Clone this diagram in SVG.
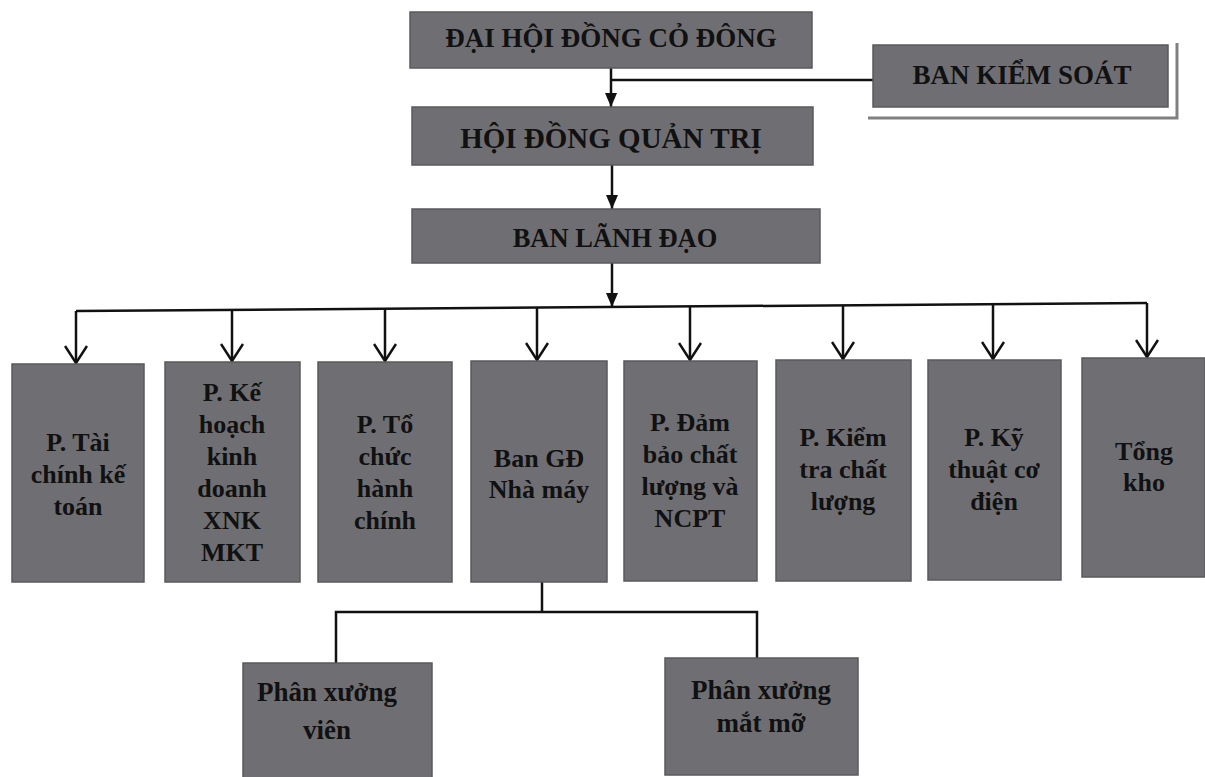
<svg xmlns="http://www.w3.org/2000/svg" width="1205" height="777" viewBox="0 0 1205 777">
<defs>
<style>
.box{fill:#6f6f73;stroke:#5a5a5e;stroke-width:1.5}
.t{font-family:"Liberation Serif","Times New Roman",serif;font-weight:bold;fill:#111;text-anchor:middle}
.t26{font-size:26px}
.t27{font-size:27px}
.ln{fill:none;stroke:#111;stroke-width:2.5}
</style>
<marker id="solid" viewBox="0 0 14 12" refX="14" refY="6" markerWidth="14" markerHeight="12" orient="auto" markerUnits="userSpaceOnUse">
<path d="M0,0 L14,6 L0,12 Z" fill="#111"/>
</marker>
<marker id="openV" viewBox="0 0 20 24" refX="18" refY="12" markerWidth="20" markerHeight="24" orient="auto" markerUnits="userSpaceOnUse">
<path d="M1,1 L18,12 L1,23" fill="none" stroke="#111" stroke-width="2.5"/>
</marker>
</defs>
<rect width="1205" height="777" fill="#ffffff"/>

<g id="connectors">
<path class="ln" d="M611,68 V107" marker-end="url(#solid)"/>
<path class="ln" d="M611,80 H873"/>
<path class="ln" d="M612,165 V209" marker-end="url(#solid)"/>
<path class="ln" d="M612,263 V307" marker-end="url(#solid)"/>
<path class="ln" d="M76,311 L1147,303"/>
<path class="ln" d="M76,311 V363" marker-end="url(#openV)"/>
<path class="ln" d="M232,310 V361" marker-end="url(#openV)"/>
<path class="ln" d="M385,309 V361" marker-end="url(#openV)"/>
<path class="ln" d="M537,308 V360" marker-end="url(#openV)"/>
<path class="ln" d="M690,306 V360" marker-end="url(#openV)"/>
<path class="ln" d="M843,305 V359" marker-end="url(#openV)"/>
<path class="ln" d="M993,304 V359" marker-end="url(#openV)"/>
<path class="ln" d="M1147,303 V357" marker-end="url(#openV)"/>
<path class="ln" d="M542,582 V612 M336,663 V612 H757 V658"/>
</g>

<g id="n-dhdcd">
<rect class="box" x="410" y="12" width="402" height="56"/>
<text class="t t27" x="611" y="47">ĐẠI HỘI ĐỒNG CỎ ĐÔNG</text>
</g>

<g id="n-bks">
<path d="M868,118 H1177 V43" fill="none" stroke="#808080" stroke-width="3"/>
<rect class="box" x="873" y="45" width="295" height="62"/>
<text class="t t27" x="1022" y="84">BAN KIỂM SOÁT</text>
</g>

<g id="n-hdqt">
<rect class="box" x="412" y="107" width="401" height="58"/>
<text class="t" style="font-size:29px" x="611" y="148">HỘI ĐỒNG QUẢN TRỊ</text>
</g>

<g id="n-bld">
<rect class="box" x="412" y="209" width="408" height="54"/>
<text class="t" style="font-size:26.5px" x="615" y="247">BAN LÃNH ĐẠO</text>
</g>

<g id="n-tckt">
<rect class="box" x="12" y="364" width="132" height="218"/>
<text class="t t26" x="78"><tspan x="78" y="451">P. Tài</tspan><tspan x="78" y="483">chính kế</tspan><tspan x="78" y="515">toán</tspan></text>
</g>

<g id="n-khkd">
<rect class="box" x="165" y="362" width="135" height="220"/>
<text class="t t26" x="232"><tspan x="232" y="401">P. Kế</tspan><tspan x="232" y="433">hoạch</tspan><tspan x="232" y="465">kinh</tspan><tspan x="232" y="497">doanh</tspan><tspan x="232" y="529">XNK</tspan><tspan x="232" y="561">MKT</tspan></text>
</g>

<g id="n-tchc">
<rect class="box" x="318" y="362" width="134" height="220"/>
<text class="t t26" x="385"><tspan x="385" y="433">P. Tổ</tspan><tspan x="385" y="465">chức</tspan><tspan x="385" y="497">hành</tspan><tspan x="385" y="529">chính</tspan></text>
</g>

<g id="n-bangd">
<rect class="box" x="471" y="361" width="136" height="221"/>
<text class="t t26" x="539"><tspan x="539" y="467">Ban GĐ</tspan><tspan x="539" y="498">Nhà máy</tspan></text>
</g>

<g id="n-dbcl">
<rect class="box" x="624" y="361" width="133" height="220"/>
<text class="t t26" x="690"><tspan x="690" y="431">P. Đảm</tspan><tspan x="690" y="463">bảo chất</tspan><tspan x="690" y="495">lượng và</tspan><tspan x="690" y="527">NCPT</tspan></text>
</g>

<g id="n-ktcl">
<rect class="box" x="776" y="360" width="135" height="221"/>
<text class="t t26" x="843"><tspan x="843" y="446">P. Kiểm</tspan><tspan x="843" y="478">tra chất</tspan><tspan x="843" y="510">lượng</tspan></text>
</g>

<g id="n-ktcd">
<rect class="box" x="928" y="360" width="133" height="220"/>
<text class="t t26" x="994"><tspan x="994" y="446">P. Kỹ</tspan><tspan x="994" y="478">thuật cơ</tspan><tspan x="994" y="510">điện</tspan></text>
</g>

<g id="n-tongkho">
<rect class="box" x="1082" y="358" width="123" height="219"/>
<text class="t t26" x="1144"><tspan x="1144" y="460">Tổng</tspan><tspan x="1144" y="491">kho</tspan></text>
</g>

<g id="n-pxvien">
<rect class="box" x="243" y="663" width="189" height="116"/>
<text class="t t27" x="327"><tspan x="327" y="701">Phân xưởng</tspan><tspan x="327" y="739">viên</tspan></text>
</g>

<g id="n-pxmatmo">
<rect class="box" x="665" y="658" width="193" height="117"/>
<text class="t t27" x="761"><tspan x="761" y="699">Phân xưởng</tspan><tspan x="761" y="732">mắt mỡ</tspan></text>
</g>
</svg>
